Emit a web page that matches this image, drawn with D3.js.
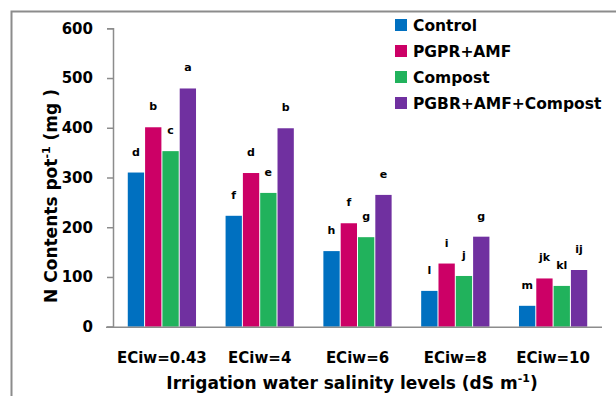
<!DOCTYPE html>
<html>
<head>
<meta charset="utf-8">
<script src="https://cdn.jsdelivr.net/npm/d3@7"></script>
<style>
  html, body { margin: 0; padding: 0; background: #fff; }
  svg { display: block; }
  text { font-family: "DejaVu Sans", sans-serif; font-weight: bold; fill: #000; }
</style>
</head>
<body>
<svg id="chart" width="616" height="396"></svg>
<script>
// ---- data ----
const categories = ["ECiw=0.43", "ECiw=4", "ECiw=6", "ECiw=8", "ECiw=10"];
const seriesNames = ["Control", "PGPR+AMF", "Compost", "PGBR+AMF+Compost"];
const controlValues = [310, 223, 152, 72, 42];
const pgprAmfValues = [401, 309, 208, 127, 97];
const compostValues = [353, 269, 180, 102, 82];
const pgbrAmfCompostValues = [479, 399, 265, 181, 114];
const controlLetters = ["d", "f", "h", "l", "m"];
const pgprAmfLetters = ["b", "d", "f", "i", "jk"];
const compostLetters = ["c", "e", "g", "j", "kl"];
const pgbrAmfCompostLetters = ["a", "b", "e", "g", "ij"];
const yTicks = [0, 100, 200, 300, 400, 500, 600];
const colors = ["#0070C0", "#CC0066", "#21B25C", "#7030A0"];

const seriesValues = [controlValues, pgprAmfValues, compostValues, pgbrAmfCompostValues];
const seriesLetters = [controlLetters, pgprAmfLetters, compostLetters, pgbrAmfCompostLetters];

const FONT = "'DejaVu Sans', sans-serif";
const svg = d3.select("#chart");

// frame
svg.append("path")
  .attr("d", "M11.5,396 L11.5,11.5 L616,11.5")
  .attr("fill", "none").attr("stroke", "#8c8c8c").attr("stroke-width", 2);

const x0 = d3.scaleBand().domain(categories).range([113, 602]).paddingInner(0.292).paddingOuter(0.146);
const x1 = d3.scaleBand().domain(seriesNames).range([0, x0.bandwidth()]).padding(0);
const y = d3.scaleLinear().domain([0, 600]).range([326.7, 28.3]);

// bars
const groups = svg.append("g").selectAll("g").data(categories).join("g")
  .attr("transform", d => `translate(${x0(d)},0)`);

groups.each(function(cat, ci) {
  const g = d3.select(this);
  seriesNames.forEach((s, si) => {
    const v = seriesValues[si][ci];
    g.append("rect")
      .attr("x", x1(s) + 0.5)
      .attr("width", x1.bandwidth() - 1)
      .attr("y", y(v))
      .attr("height", y(0) - y(v))
      .attr("fill", colors[si]);
    g.append("text")
      .attr("x", x1(s) + x1.bandwidth() / 2)
      .attr("y", y(v) - 17)
      .attr("text-anchor", "middle")
      .attr("font-size", 11)
      .text(seriesLetters[si][ci]);
  });
});

// y axis
const yAxis = svg.append("g").attr("transform", "translate(113,0)")
  .call(d3.axisLeft(y).tickValues(yTicks).tickSize(6).tickPadding(14));
yAxis.select(".domain").attr("stroke", "#8c8c8c").attr("stroke-width", 1.5);
yAxis.selectAll(".tick line").attr("stroke", "#8c8c8c").attr("stroke-width", 1.5);
yAxis.selectAll(".tick text").attr("font-size", 15).attr("font-family", FONT).attr("font-weight", "bold").attr("fill", "#000");

// x axis
const xAxis = svg.append("g").attr("transform", `translate(0,${y(0)})`)
  .call(d3.axisBottom(x0).tickSize(0).tickPadding(26));
xAxis.select(".domain").attr("stroke", "#8c8c8c").attr("stroke-width", 1.5)
  .attr("d", `M106,0.5H602`);
xAxis.selectAll(".tick text").attr("font-size", 15).attr("font-family", FONT).attr("font-weight", "bold").attr("fill", "#000");

// axis titles
const xt = svg.append("text").attr("x", 352).attr("y", 389).attr("text-anchor", "middle").attr("font-size", 17);
xt.append("tspan").text("Irrigation water salinity levels (dS m");
xt.append("tspan").attr("font-size", 11).attr("dy", -7).text("-1");
xt.append("tspan").attr("dy", 7).text(")");

const yt = svg.append("text").attr("transform", "translate(57,196) rotate(-90)").attr("text-anchor", "middle").attr("font-size", 17);
yt.append("tspan").text("N Contents pot");
yt.append("tspan").attr("font-size", 11).attr("dy", -7).text("-1");
yt.append("tspan").attr("dy", 7).text(" (mg )");

// legend
const legend = svg.append("g");
seriesNames.forEach((s, i) => {
  const ly = 25 + i * 26;
  legend.append("rect").attr("x", 395).attr("y", ly - 6).attr("width", 12).attr("height", 12).attr("fill", colors[i]);
  legend.append("text").attr("x", 413).attr("y", ly + 6).attr("font-size", 15.5).text(s);
});
</script>
</body>
</html>
